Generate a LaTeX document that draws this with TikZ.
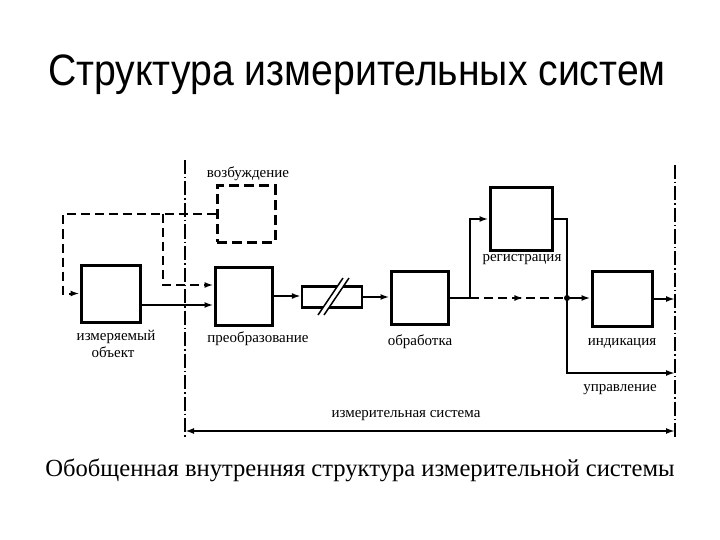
\documentclass[tikz,border=0pt]{standalone}
\usepackage{fontspec}
\usepackage{graphicx}
\setmainfont{Liberation Serif}
\newfontfamily\titlefont{Liberation Sans}
\usetikzlibrary{arrows.meta,decorations.markings}
\begin{document}
\begin{tikzpicture}[x=1pt,y=-1pt,
  box/.style={draw,line width=3pt,inner sep=0pt},
  dbox/.style={box,dash pattern=on 10pt off 5pt},
  lbl/.style={font=\fontsize{15}{15}\selectfont,inner sep=0pt,anchor=base},
  conn/.style={line width=2pt},
  dconn/.style={line width=2pt,dash pattern=on 9pt off 5pt},
  arr/.style={-{Latex[length=9pt,width=6pt]}},
  ddot/.style={line width=1.5pt,dash pattern=on 14pt off 3pt on 1.5pt off 3pt},
  midarr/.style={postaction={decorate},decoration={markings,
     mark=at position 0.55 with {\arrow{Latex[length=9pt,width=6pt]}}}}]
\useasboundingbox (0,0) rectangle (720,540);
% title and caption
\node[font=\titlefont\fontsize{44}{50}\selectfont,inner sep=0pt,anchor=base] (title) at (357,86)
  {\scalebox{0.89}[1]{Структура измерительных систем}};
\node[font=\fontsize{24.6}{28}\selectfont,inner sep=0pt,anchor=base] (caption) at (360,476)
  {Обобщенная внутренняя структура измерительной системы};
% boundaries of the measuring system
\coordinate (lt) at (185,160); \coordinate (lb) at (185,437);
\coordinate (rt) at (675,165); \coordinate (rb) at (675,437);
\draw[ddot] (lt) -- (lb);
\draw[ddot] (rt) -- (rb);
% blocks
\node[box,minimum width=59pt,minimum height=57pt] (obj) at (110.5,293.5) {};
\node[dbox,minimum width=58pt,minimum height=56pt] (exc) at (246,214) {};
\node[box,minimum width=57pt,minimum height=58pt] (conv) at (243.5,296) {};
\node[box,line width=2.4pt,minimum width=60pt,minimum height=21pt] (tl) at (332,297) {};
\node[box,minimum width=57pt,minimum height=53pt] (proc) at (419.5,298) {};
\node[box,minimum width=62pt,minimum height=62pt] (reg) at (521,219) {};
\node[box,minimum width=60pt,minimum height=55pt] (ind) at (622,299) {};
% break in the transmission line
\fill[white] (318,315) -- (343,278) -- (349,278) -- (324,315) -- cycle;
\draw[line width=1.5pt] (318,315) -- (343,278);
\draw[line width=1.5pt] (324,315) -- (349,278);
% labels
\node[lbl] (lexc) at (248,178) {возбуждение};
\node[lbl] (lobj) at (116,340) {измеряемый};
\node[lbl] (lobj2) at (113,357) {объект};
\node[lbl] (lconv) at (258,342) {преобразование};
\node[lbl] (lproc) at (420,345) {обработка};
\node[lbl] (lreg) at (522,261) {регистрация};
\node[lbl] (lind) at (622,345) {индикация};
\node[lbl] (lupr) at (620,391) {управление};
\node[lbl] (lsys) at (406,417) {измерительная система};
% feedback (excitation)
\coordinate (fbL) at (63,214);
\coordinate (fbB) at (163,214);
\coordinate (y285) at (0,285);
\coordinate (y305) at (0,305);
\draw[dconn,arr] (exc.west) -- (fbL) |- (obj.west);
\draw[dconn,arr] (fbB) |- (conv.west |- y285);
% main signal path
\draw[conn,arr] (obj.east |- y305) -- (conv.west |- y305);
\draw[conn,arr] (conv.east) -- (conv.east -| tl.west);
\draw[conn,arr] (tl.east) -- (tl.east -| proc.west);
\coordinate (up) at (470,298);
\coordinate (j) at (567,298);
\draw[conn,arr] (proc.east |- up) -- (up) |- (reg.west);
\draw[dconn,midarr] (up) -- (j);
\draw[conn,arr] (j) -- (j -| ind.west);
\fill (j) circle (3pt);
\coordinate (cb) at (567,373);
\draw[conn,arr] (reg.east) -| (cb) -- (cb -| rb);
\draw[conn,arr] (ind.east) -- (ind.east -| rb);
% measuring system extent
\coordinate (dl) at (185,431);
\coordinate (dr) at (675,431);
\draw[conn,{Latex[length=9pt,width=6pt]}-{Latex[length=9pt,width=6pt]}] (dl) -- (dr);
\end{tikzpicture}
\end{document}
